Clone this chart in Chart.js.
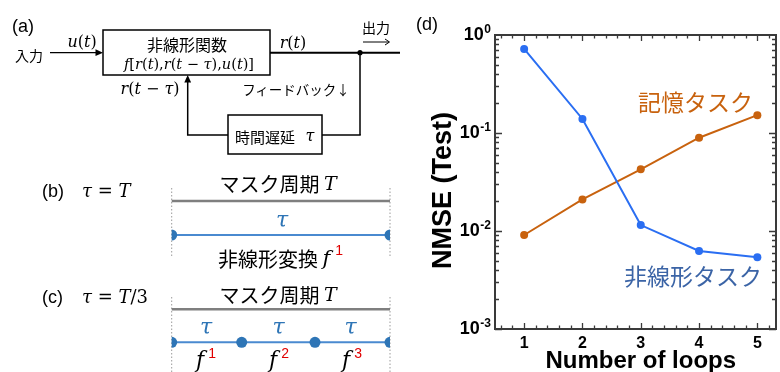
<!DOCTYPE html>
<html>
<head>
<meta charset="utf-8">
<script src="https://cdn.jsdelivr.net/npm/chart.js@4/dist/chart.umd.min.js"></script>
<style>
  html, body { margin: 0; padding: 0; background: #fff; }
  #wrap { position: relative; width: 780px; height: 372px; overflow: hidden; }
  #chart { position: absolute; left: 0; top: 0; }
  #diagram { position: absolute; left: 0; top: 0; }
  .jp { font-family: "Noto Sans CJK JP", sans-serif; }
  .sans { font-family: "Liberation Sans", Arial, sans-serif; }
  .m { font-family: "DejaVu Serif", "Liberation Serif", serif; }
  .i { font-style: italic; }
</style>
</head>
<body>
<div id="wrap">
  <canvas id="chart" width="780" height="372"></canvas>
  <svg id="diagram" width="420" height="372" viewBox="0 0 420 372">
    <!-- (a) reservoir with delayed feedback -->
    <text class="sans" x="12" y="32" font-size="18">(a)</text>
    <text class="jp" x="29" y="55" font-size="14" text-anchor="middle" dominant-baseline="central">入力</text>
    <line x1="50" y1="52.7" x2="97" y2="52.7" stroke="#000" stroke-width="1.3"/>
    <polygon points="103,52.7 95.5,49.3 95.5,56.1" fill="#000"/>
    <text class="m" x="82" y="47" font-size="16" text-anchor="middle"><tspan class="i">u</tspan>(<tspan class="i">t</tspan>)</text>
    <rect x="103" y="30" width="167" height="45" fill="none" stroke="#000" stroke-width="1.5"/>
    <text class="jp" x="187" y="44" font-size="16" text-anchor="middle" dominant-baseline="central">非線形関数</text>
    <text class="m" x="189" y="69" font-size="14.5" text-anchor="middle"><tspan class="i">f</tspan>[<tspan class="i">r</tspan>(<tspan class="i">t</tspan>),<tspan class="i">r</tspan>(<tspan class="i">t</tspan> − <tspan class="i">τ</tspan>),<tspan class="i">u</tspan>(<tspan class="i">t</tspan>)]</text>
    <line x1="270" y1="52.7" x2="400" y2="52.7" stroke="#000" stroke-width="2"/>
    <text class="m" x="293" y="48" font-size="16" text-anchor="middle"><tspan class="i">r</tspan>(<tspan class="i">t</tspan>)</text>
    <circle cx="360" cy="52.7" r="2.6" fill="#000"/>
    <text class="jp" x="376" y="27" font-size="14" text-anchor="middle" dominant-baseline="central">出力</text>
    <line x1="363" y1="42" x2="389" y2="42" stroke="#000" stroke-width="1"/>
    <polyline points="385,39 389.5,42 385,45" fill="none" stroke="#000" stroke-width="1"/>
    <line x1="360" y1="52.7" x2="360" y2="135" stroke="#000" stroke-width="1.5"/>
    <line x1="322" y1="135" x2="360.75" y2="135" stroke="#000" stroke-width="1.5"/>
    <rect x="228" y="115" width="94" height="39" fill="none" stroke="#000" stroke-width="1.5"/>
    <text class="jp" x="265" y="136" font-size="15" text-anchor="middle" dominant-baseline="central">時間遅延</text>
    <text class="m i" x="310" y="141" font-size="16" text-anchor="middle">τ</text>
    <polyline points="228,135 187.7,135 187.7,81" fill="none" stroke="#000" stroke-width="1.5"/>
    <polygon points="187.7,75 184.3,82.5 191.1,82.5" fill="#000"/>
    <text class="m" x="150" y="94" font-size="16" text-anchor="middle"><tspan class="i">r</tspan>(<tspan class="i">t</tspan> − <tspan class="i">τ</tspan>)</text>
    <text class="jp" x="296" y="89" font-size="13.5" text-anchor="middle" dominant-baseline="central">フィードバック↓</text>

    <!-- (b) one delay per mask period -->
    <text class="sans" x="42" y="197" font-size="18">(b)</text>
    <text class="m" x="82" y="197" font-size="18"><tspan class="i">τ</tspan> = <tspan class="i">T</tspan></text>
    <line x1="171.7" y1="188" x2="171.7" y2="258" stroke="#9a9a9a" stroke-width="1" stroke-dasharray="1.5,2"/>
    <line x1="390" y1="188" x2="390" y2="258" stroke="#9a9a9a" stroke-width="1" stroke-dasharray="1.5,2"/>
    <text x="278" y="183" font-size="20" text-anchor="middle" dominant-baseline="central"><tspan class="jp">マスク周期 </tspan><tspan class="m i" font-size="19">T</tspan></text>
    <line x1="171.7" y1="201" x2="390" y2="201" stroke="#7f7f7f" stroke-width="2.5"/>
    <text class="m i" x="282" y="227" font-size="22" fill="#2e75b6" text-anchor="middle">τ</text>
    <line x1="171.7" y1="235" x2="390" y2="235" stroke="#4a8ad0" stroke-width="2"/>
    <path d="M171.7,229.5 A5.5,5.5 0 0 1 171.7,240.5 Z" fill="#2e75b6"/>
    <path d="M390,229.5 A5.5,5.5 0 0 0 390,240.5 Z" fill="#2e75b6"/>
    <text x="218" y="258" font-size="20" dominant-baseline="central"><tspan class="jp">非線形変換 </tspan><tspan class="m i" font-size="21">f</tspan><tspan class="sans" font-size="14" fill="#e00000" dx="5" dy="-8">1</tspan></text>

    <!-- (c) three delays per mask period -->
    <text class="sans" x="42" y="303" font-size="18">(c)</text>
    <text class="m" x="82" y="303" font-size="18"><tspan class="i">τ</tspan> = <tspan class="i">T</tspan>/3</text>
    <line x1="171.7" y1="297" x2="171.7" y2="372" stroke="#9a9a9a" stroke-width="1" stroke-dasharray="1.5,2"/>
    <line x1="390" y1="297" x2="390" y2="372" stroke="#9a9a9a" stroke-width="1" stroke-dasharray="1.5,2"/>
    <text x="278" y="293.5" font-size="20" text-anchor="middle" dominant-baseline="central"><tspan class="jp">マスク周期 </tspan><tspan class="m i" font-size="19">T</tspan></text>
    <line x1="171.7" y1="309.3" x2="390" y2="309.3" stroke="#7f7f7f" stroke-width="2.5"/>
    <text class="m i" x="206" y="334" font-size="22" fill="#2e75b6" text-anchor="middle">τ</text>
    <text class="m i" x="278.5" y="334" font-size="22" fill="#2e75b6" text-anchor="middle">τ</text>
    <text class="m i" x="350.5" y="334" font-size="22" fill="#2e75b6" text-anchor="middle">τ</text>
    <line x1="171.7" y1="342.3" x2="390" y2="342.3" stroke="#4a8ad0" stroke-width="2"/>
    <path d="M171.7,336.8 A5.5,5.5 0 0 1 171.7,347.8 Z" fill="#2e75b6"/>
    <circle cx="241.7" cy="342.3" r="5.5" fill="#2e75b6"/>
    <circle cx="315" cy="342.3" r="5.5" fill="#2e75b6"/>
    <path d="M390,336.8 A5.5,5.5 0 0 0 390,347.8 Z" fill="#2e75b6"/>
    <text x="196" y="367" font-size="22"><tspan class="m i">f</tspan><tspan class="sans" font-size="14" fill="#e00000" dx="4" dy="-9">1</tspan></text>
    <text x="269" y="367" font-size="22"><tspan class="m i">f</tspan><tspan class="sans" font-size="14" fill="#e00000" dx="4" dy="-9">2</tspan></text>
    <text x="342" y="367" font-size="22"><tspan class="m i">f</tspan><tspan class="sans" font-size="14" fill="#e00000" dx="4" dy="-9">3</tspan></text>
  </svg>
</div>
<script>
// (d) test NMSE versus number of loops
const loops = [1, 2, 3, 4, 5];
const nonlinearTask = [0.72, 0.139, 0.0115, 0.00625, 0.0054];
const memoryTask = [0.0091, 0.021, 0.0426, 0.0895, 0.152];
const yDecades = [0, -1, -2, -3];
const xTickLabels = ['1', '2', '3', '4', '5'];
const seriesNames = ['非線形タスク', '記憶タスク'];

const BLUE = '#2a6ef2';
const ORANGE = '#c8620e';
const AXIS = '#3a3a3a';
const SANS = '"Liberation Sans", Arial, sans-serif';
const JP = '"Noto Sans CJK JP", sans-serif';

const toPoints = vals => vals.map((v, i) => ({ x: loops[i], y: v }));

// Boxed frame with inward ticks, power-of-ten labels, titles and series names
const framedAxes = {
  id: 'framedAxes',
  afterDraw(chart) {
    const { ctx, chartArea: a, scales: { x, y } } = chart;
    ctx.save();
    ctx.strokeStyle = AXIS;
    ctx.lineWidth = 1.3;
    ctx.beginPath();
    // x ticks every 0.2, longer at integers, on bottom and top edges
    for (let k = 3; k * 0.2 <= x.max + 1e-9; k++) {
      const v = k * 0.2;
      const major = k % 5 === 0;
      const px = Math.round(x.getPixelForValue(v)) + 0.5;
      const len = major ? 6 : 3.5;
      ctx.moveTo(px, a.bottom); ctx.lineTo(px, a.bottom - len);
      ctx.moveTo(px, a.top); ctx.lineTo(px, a.top + len);
    }
    // log ticks on left and right edges
    for (let e = -3; e <= -1; e++) {
      for (let m = 1; m <= 9; m++) {
        const v = m * Math.pow(10, e);
        const py = Math.round(y.getPixelForValue(v)) + 0.5;
        const len = m === 1 ? 7 : 4;
        ctx.moveTo(a.left, py); ctx.lineTo(a.left + len, py);
        ctx.moveTo(a.right, py); ctx.lineTo(a.right - len, py);
      }
    }
    ctx.stroke();
    ctx.lineWidth = 2;
    ctx.strokeRect(a.left, a.top, a.right - a.left, a.bottom - a.top);

    // y tick labels: 10 with superscript exponent
    ctx.fillStyle = '#000';
    ctx.textBaseline = 'alphabetic';
    yDecades.forEach(e => {
      const py = y.getPixelForValue(Math.pow(10, e));
      const exp = String(e);
      ctx.font = 'bold 12px ' + SANS;
      const ew = ctx.measureText(exp).width;
      ctx.textAlign = 'left';
      const right = a.left - 4;
      ctx.fillText(exp, right - ew, py - 2.5);
      ctx.font = 'bold 18px ' + SANS;
      ctx.textAlign = 'right';
      ctx.fillText('10', right - ew - 0.5, py + 5);
    });

    // x tick labels
    ctx.font = 'bold 16px ' + SANS;
    ctx.textAlign = 'center';
    xTickLabels.forEach((t, i) => {
      ctx.fillText(t, x.getPixelForValue(loops[i]), 348);
    });

    // axis titles
    ctx.font = 'bold 24px ' + SANS;
    ctx.fillText('Number of loops', x.getPixelForValue(3), 368);
    ctx.save();
    ctx.translate(451, 190.5);
    ctx.rotate(-Math.PI / 2);
    ctx.font = 'bold 27px ' + SANS;
    ctx.textAlign = 'center';
    ctx.fillText('NMSE (Test)', 0, 0);
    ctx.restore();

    // panel tag
    ctx.font = '18px ' + SANS;
    ctx.textAlign = 'left';
    ctx.fillText('(d)', 416, 30);

    // series names
    ctx.font = '23px ' + JP;
    ctx.textAlign = 'center';
    ctx.textBaseline = 'middle';
    ctx.fillStyle = ORANGE;
    ctx.fillText(seriesNames[1], 695.5, 102);
    ctx.fillStyle = '#3b64a6';
    ctx.fillText(seriesNames[0], 693, 276);
    ctx.restore();
  }
};

new Chart(document.getElementById('chart'), {
  type: 'line',
  data: {
    datasets: [
      {
        label: seriesNames[0],
        data: toPoints(nonlinearTask),
        borderColor: BLUE,
        backgroundColor: BLUE,
        pointBackgroundColor: BLUE,
        pointBorderWidth: 0,
        pointRadius: 4,
        borderWidth: 2,
        tension: 0
      },
      {
        label: seriesNames[1],
        data: toPoints(memoryTask),
        borderColor: ORANGE,
        backgroundColor: ORANGE,
        pointBackgroundColor: ORANGE,
        pointBorderWidth: 0,
        pointRadius: 4,
        borderWidth: 2,
        tension: 0
      }
    ]
  },
  options: {
    responsive: false,
    animation: false,
    devicePixelRatio: 1,
    layout: { padding: { left: 495, top: 35, right: 1, bottom: 43 } },
    plugins: { legend: { display: false }, tooltip: { enabled: false } },
    scales: {
      x: { type: 'linear', min: 0.5, max: 5.32, display: false },
      y: { type: 'logarithmic', min: 0.001, max: 1, display: false }
    }
  },
  plugins: [framedAxes]
});
</script>
</body>
</html>
